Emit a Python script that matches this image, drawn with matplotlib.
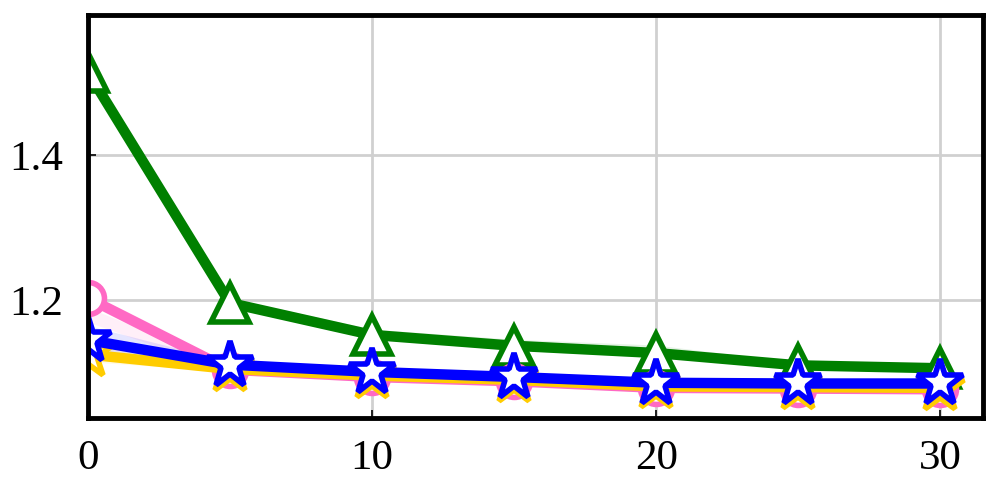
import numpy as np
import matplotlib
matplotlib.use("Agg")
import matplotlib.pyplot as plt

plt.rcParams['font.family'] = ['Liberation Serif', 'DejaVu Serif']

x = [0, 5, 10, 15, 20, 25, 30]
green = [1.515, 1.196, 1.152, 1.137, 1.127, 1.110, 1.106]
green_lo = [1.505, 1.190, 1.146, 1.131, 1.121, 1.106, 1.102]
green_hi = [1.525, 1.203, 1.160, 1.146, 1.138, 1.114, 1.110]
pink = [1.203, 1.104, 1.094, 1.088, 1.079, 1.078, 1.077]
pink_lo = [1.170, 1.100, 1.090, 1.085, 1.076, 1.075, 1.074]
pink_hi = [1.190, 1.110, 1.098, 1.092, 1.083, 1.082, 1.081]
yellow = [1.125, 1.105, 1.096, 1.090, 1.081, 1.080, 1.079]
yellow_lo = [1.115, 1.102, 1.094, 1.088, 1.079, 1.078, 1.077]
yellow_hi = [1.140, 1.110, 1.100, 1.094, 1.085, 1.084, 1.083]
blue = [1.145, 1.111, 1.101, 1.094, 1.086, 1.085, 1.085]
blue_lo = [1.130, 1.107, 1.098, 1.091, 1.083, 1.082, 1.082]
blue_hi = [1.165, 1.115, 1.104, 1.097, 1.089, 1.088, 1.088]

fig = plt.figure(figsize=(9.96, 4.98), dpi=100)
ax = fig.add_axes([0.088, 0.16, 0.899, 0.81])

series = [
    (green, green_lo, green_hi, 'green', '^', 27),
    (pink, pink_lo, pink_hi, '#ff69c4', 'o', 23),
    (yellow, yellow_lo, yellow_hi, '#ffcc00', '*', 37),
    (blue, blue_lo, blue_hi, 'blue', '*', 35),
]
for y, lo, hi, c, m, ms in series:
    ax.fill_between(x, lo, hi, color=c, alpha=0.1, lw=0)
    ax.plot(x, y, color=c, lw=7.5, marker=m, ms=ms, mfc='white', mec=c, mew=4)

ax.set_xlim(0, 31.5)
ax.set_ylim(1.037, 1.593)
ax.set_xticks([0, 10, 20, 30])
ax.set_yticks([1.2, 1.4])
ax.grid(True, color='#d0d0d0', lw=2)
ax.set_axisbelow(True)
ax.tick_params(direction='in', labelsize=31, length=6, width=1.2)
ax.tick_params(axis='x', pad=15)
ax.tick_params(axis='y', pad=18)
for s in ax.spines.values():
    s.set_linewidth(3.5)

fig.savefig('out.png', dpi=100)
